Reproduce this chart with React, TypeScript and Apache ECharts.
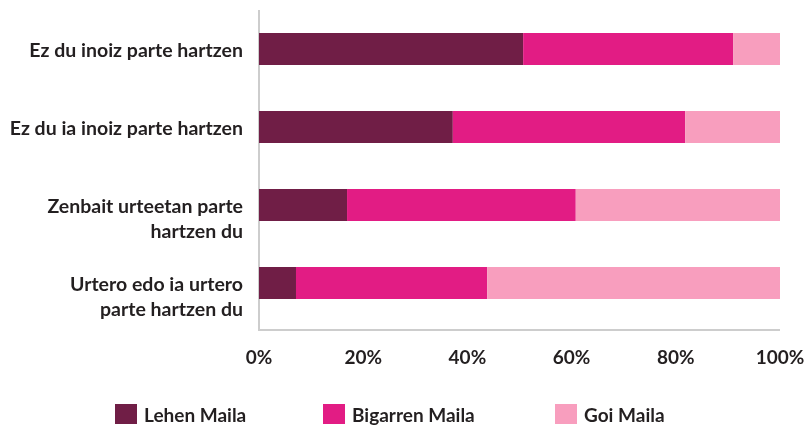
import React, { useEffect, useRef } from "react";
import * as echarts from "echarts";

const categories = [
  "Ez du inoiz parte hartzen",
  "Ez du ia inoiz parte hartzen",
  "Zenbait urteetan parte hartzen du",
  "Urtero edo ia urtero parte hartzen du",
];
const categoryLines: Record<string, string[]> = {
  "Ez du inoiz parte hartzen": ["Ez du inoiz parte hartzen"],
  "Ez du ia inoiz parte hartzen": ["Ez du ia inoiz parte hartzen"],
  "Zenbait urteetan parte hartzen du": ["Zenbait urteetan parte", "hartzen du"],
  "Urtero edo ia urtero parte hartzen du": ["Urtero edo ia urtero", "parte hartzen du"],
};
const seriesNames = ["Lehen Maila", "Bigarren Maila", "Goi Maila"];
const lehen = [50.7, 37.2, 16.9, 7.1];
const bigarren = [40.3, 44.6, 43.9, 36.7];
const goi = [9.0, 18.2, 39.2, 56.2];
const colors = ["#701E46", "#E21C84", "#F89EBE"];

const FONT = "Lato, 'Open Sans', sans-serif";
const TEXT = "#231F20";

export default function App() {
  const ref = useRef<HTMLDivElement>(null);
  useEffect(() => {
    if (!ref.current) return;
    const chart = echarts.init(ref.current, null, { renderer: "svg" });
    const values = [lehen, bigarren, goi];
    const legendLeft = [115, 323, 555];
    chart.setOption({
      animation: false,
      grid: { left: 259, right: 32, top: 10, height: 312 },
      xAxis: {
        type: "value",
        min: 0,
        max: 100,
        interval: 20,
        axisLine: { show: false },
        axisTick: { show: false },
        splitLine: { show: false },
        axisLabel: {
          formatter: "{value}%",
          fontFamily: FONT,
          fontWeight: "bold",
          fontSize: 19,
          color: TEXT,
          margin: 25,
        },
      },
      yAxis: {
        type: "category",
        inverse: true,
        data: categories,
        axisLine: { show: false },
        axisTick: { show: false },
        axisLabel: {
          formatter: (v: string) => {
            const lines = categoryLines[v] || [v];
            return lines.length > 1 ? "\n" + lines.join("\n") : lines[0];
          },
          fontFamily: FONT,
          fontWeight: "bold",
          fontSize: 19.5,
          lineHeight: 25,
          color: TEXT,
          align: "right",
          margin: 16,
        },
      },
      legend: seriesNames.map((n, i) => ({
        data: [n],
        left: legendLeft[i],
        top: 404,
        padding: 0,
        itemWidth: 22,
        itemHeight: 20,
        itemGap: 0,
        icon: "rect",
        textStyle: {
          fontFamily: FONT,
          fontWeight: "bold",
          fontSize: 19,
          color: TEXT,
          padding: [0, 0, 0, 2],
        },
      })),
      graphic: [
        {
          type: "polyline",
          z: 0,
          shape: { points: [[259, 10], [259, 330], [780, 330]] },
          style: { stroke: "#CDCDCD", lineWidth: 2, fill: null },
        },
      ],
      series: seriesNames.map((n, i) => ({
        name: n,
        type: "bar",
        stack: "total",
        barWidth: 32,
        z: 3,
        itemStyle: { color: colors[i] },
        data: values[i],
      })),
    });
    return () => chart.dispose();
  }, []);
  return (
    <div
      ref={ref}
      style={{ position: "fixed", left: 0, top: 0, width: 812, height: 425 }}
    />
  );
}
